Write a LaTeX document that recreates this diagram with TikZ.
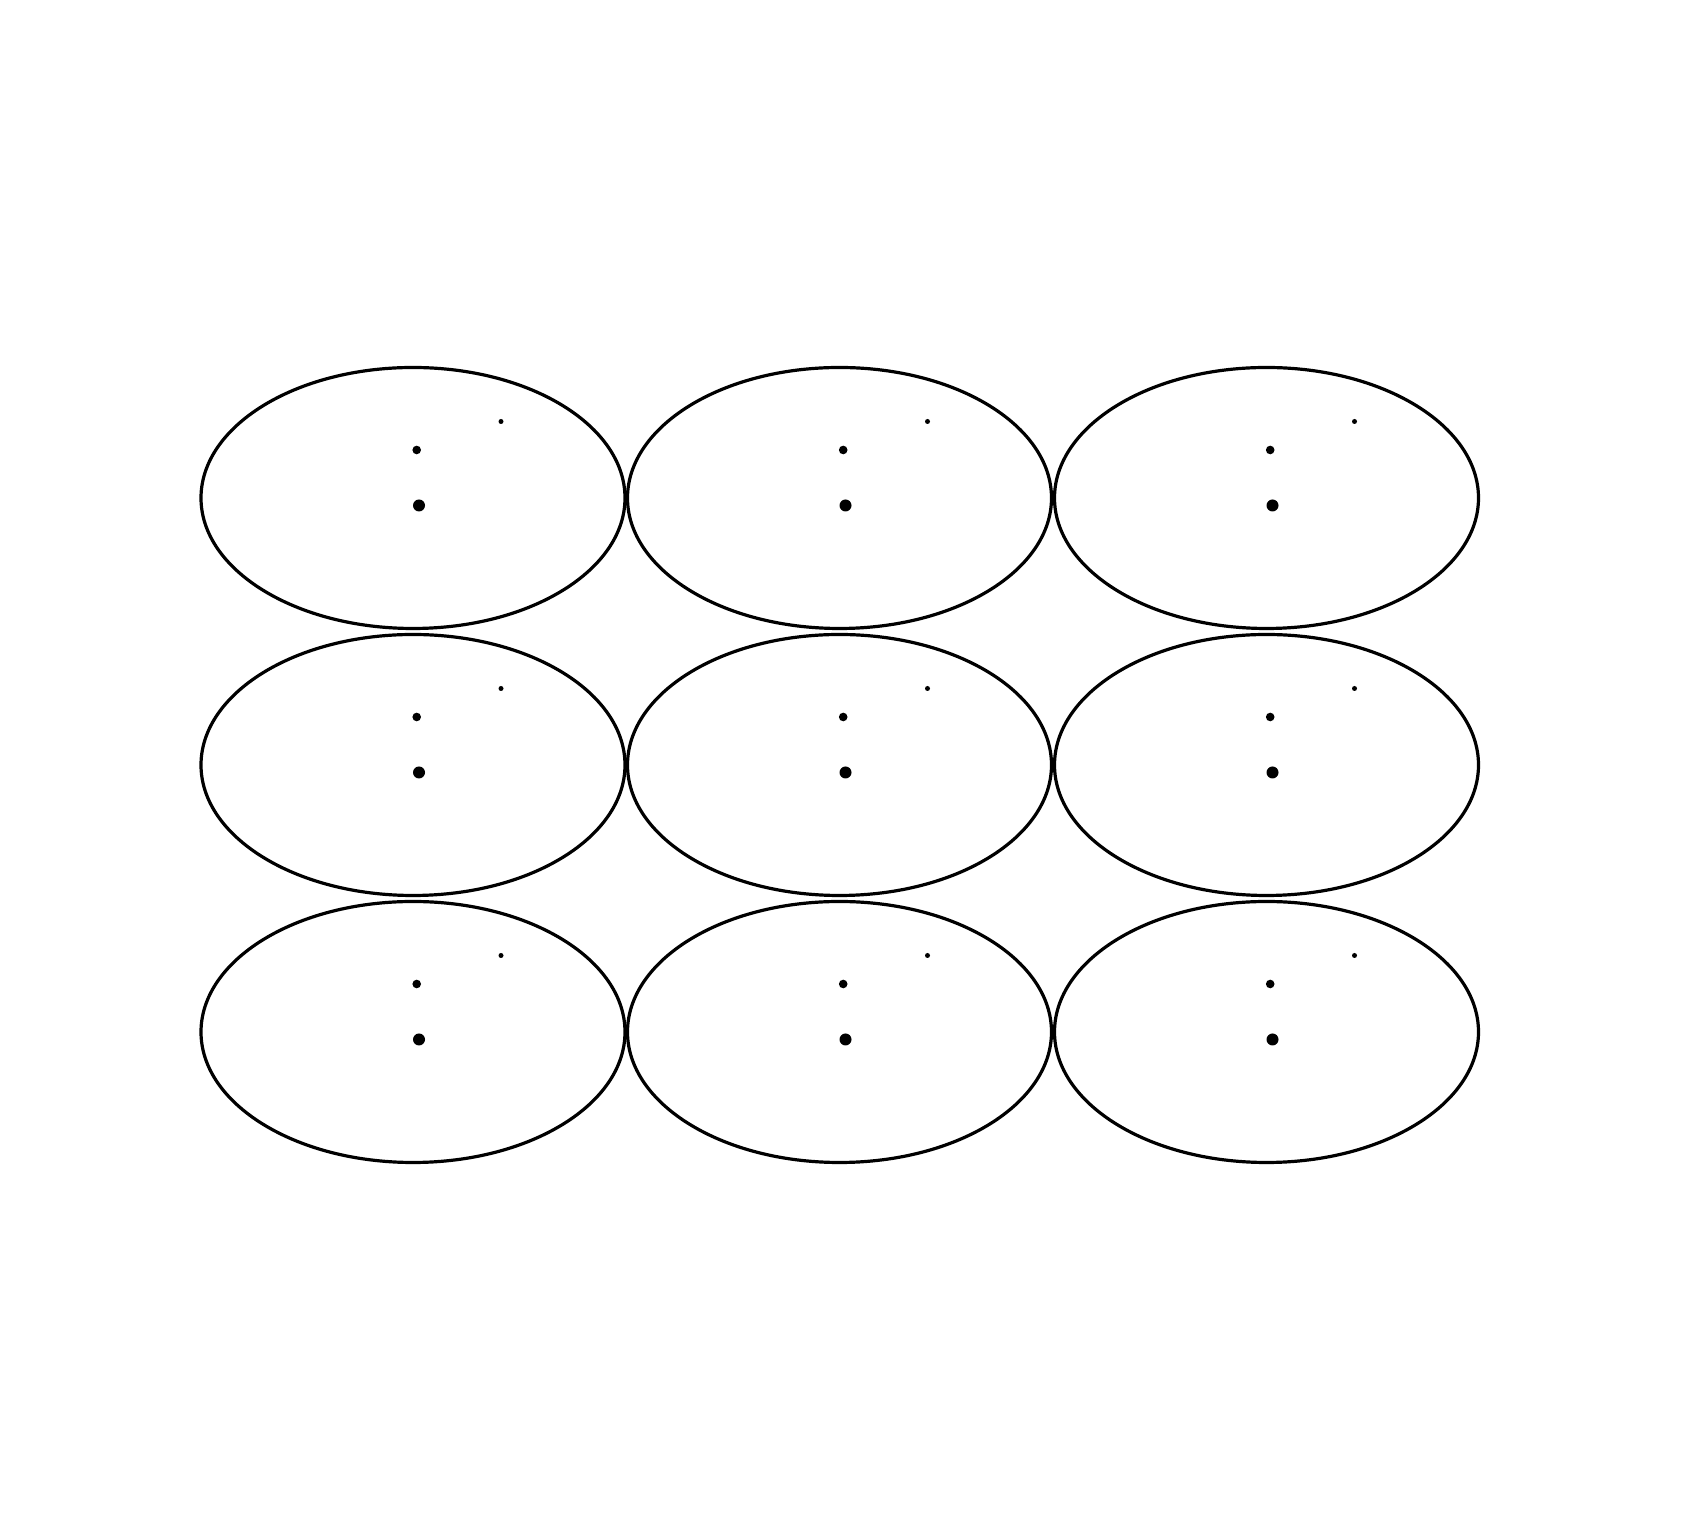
\documentclass[tikz,border=0pt]{standalone}
\usepackage{tikz}
\usetikzlibrary{shapes, backgrounds, arrows, positioning}

\begin{document}
\begin{tikzpicture}[x=1pt,y=1pt]
\definecolor[named]{fillColor}{rgb}{1.00,1.00,1.00}
\path[use as bounding box,fill=fillColor,fill opacity=0.00] (0,0) rectangle (1690.00,1534.00);
\begin{scope}
\path[clip] (  0.00,  0.00) rectangle (1690.00,1534.00);
\definecolor[named]{drawColor}{rgb}{0.00,0.00,0.00}
\definecolor[named]{fillColor}{rgb}{0.00,0.00,0.00}

% top row
\path[draw=drawColor,line width= 3.2pt,line join=round,line cap=round] ( 413.00,1036.00) ellipse (212.00 and 130.50);

\path[draw=drawColor,line width= 3.2pt,line join=round,line cap=round] ( 839.50,1036.00) ellipse (212.00 and 130.50);

\path[draw=drawColor,line width= 3.2pt,line join=round,line cap=round] (1266.50,1036.00) ellipse (212.00 and 130.50);

\path[fill=fillColor] ( 501.00,1112.50) circle (  2.50);
\path[fill=fillColor] ( 927.50,1112.50) circle (  2.50);
\path[fill=fillColor] (1354.50,1112.50) circle (  2.50);

\path[fill=fillColor] ( 416.70,1084.00) circle (  4.30);
\path[fill=fillColor] ( 843.20,1084.00) circle (  4.30);
\path[fill=fillColor] (1270.20,1084.00) circle (  4.30);

\path[fill=fillColor] ( 419.00,1028.50) circle (  6.00);
\path[fill=fillColor] ( 845.50,1028.50) circle (  6.00);
\path[fill=fillColor] (1272.50,1028.50) circle (  6.00);

% middle row
\path[draw=drawColor,line width= 3.2pt,line join=round,line cap=round] ( 413.00, 769.00) ellipse (212.00 and 130.50);

\path[draw=drawColor,line width= 3.2pt,line join=round,line cap=round] ( 839.50, 769.00) ellipse (212.00 and 130.50);

\path[draw=drawColor,line width= 3.2pt,line join=round,line cap=round] (1266.50, 769.00) ellipse (212.00 and 130.50);

\path[fill=fillColor] ( 501.00, 845.50) circle (  2.50);
\path[fill=fillColor] ( 927.50, 845.50) circle (  2.50);
\path[fill=fillColor] (1354.50, 845.50) circle (  2.50);

\path[fill=fillColor] ( 416.70, 817.00) circle (  4.30);
\path[fill=fillColor] ( 843.20, 817.00) circle (  4.30);
\path[fill=fillColor] (1270.20, 817.00) circle (  4.30);

\path[fill=fillColor] ( 419.00, 761.50) circle (  6.00);
\path[fill=fillColor] ( 845.50, 761.50) circle (  6.00);
\path[fill=fillColor] (1272.50, 761.50) circle (  6.00);

% bottom row
\path[draw=drawColor,line width= 3.2pt,line join=round,line cap=round] ( 413.00, 502.00) ellipse (212.00 and 130.50);

\path[draw=drawColor,line width= 3.2pt,line join=round,line cap=round] ( 839.50, 502.00) ellipse (212.00 and 130.50);

\path[draw=drawColor,line width= 3.2pt,line join=round,line cap=round] (1266.50, 502.00) ellipse (212.00 and 130.50);

\path[fill=fillColor] ( 501.00, 578.50) circle (  2.50);
\path[fill=fillColor] ( 927.50, 578.50) circle (  2.50);
\path[fill=fillColor] (1354.50, 578.50) circle (  2.50);

\path[fill=fillColor] ( 416.70, 550.00) circle (  4.30);
\path[fill=fillColor] ( 843.20, 550.00) circle (  4.30);
\path[fill=fillColor] (1270.20, 550.00) circle (  4.30);

\path[fill=fillColor] ( 419.00, 494.50) circle (  6.00);
\path[fill=fillColor] ( 845.50, 494.50) circle (  6.00);
\path[fill=fillColor] (1272.50, 494.50) circle (  6.00);
\end{scope}
\end{tikzpicture}
\end{document}
